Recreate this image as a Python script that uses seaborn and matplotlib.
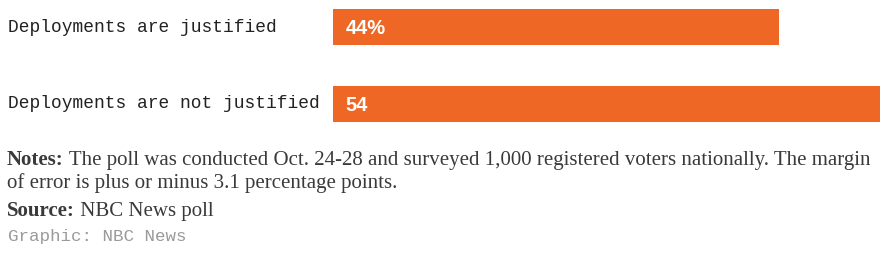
import matplotlib
matplotlib.use("Agg")
import matplotlib.pyplot as plt
import seaborn as sns
import pandas as pd

categories = ["Deployments are justified", "Deployments are not justified"]
values = [44, 54]
value_labels = ["44%", "54"]
notes_label = "Notes:"
notes_text = [" The poll was conducted Oct. 24-28 and surveyed 1,000 registered voters nationally. The margin",
              "of error is plus or minus 3.1 percentage points."]
source_label = "Source:"
source_text = " NBC News poll"
credit = "Graphic: NBC News"

sns.set_theme(style="white")
plt.rcParams["font.family"] = ["DejaVu Sans"]

W, H = 889, 280
fig = plt.figure(figsize=(W / 100, H / 100), dpi=100)
fig.patch.set_facecolor("white")

bar_w = 36 / 77
pad = bar_w / 2
top_px, bot_px = 9, 122
ax = fig.add_axes([333 / W, 1 - bot_px / H, (880 - 333) / W, (bot_px - top_px) / H])

df = pd.DataFrame({"cat": categories, "val": values})
sns.barplot(data=df, x="val", y="cat", color="#EE6724", saturation=1, width=bar_w, ax=ax,
            orient="h", linewidth=0)
ax.set_xlim(0, max(values))
ax.set_ylim(1 + pad, -pad)
ax.axis("off")

for i, (v, lab) in enumerate(zip(values, value_labels)):
    ax.text(1.25, i + 0.02, lab, color="white", fontsize=14.5, fontweight="bold",
            family="Liberation Sans", va="center", ha="left")

def fy(px):
    return 1 - px / H

for i, c in enumerate(categories):
    fig.text(8 / W, fy([27, 104][i]), c, family="Liberation Mono", fontsize=12.9,
             color="#222222", va="center", ha="left")

fig.canvas.draw()
r = fig.canvas.get_renderer()

def label_pair(y_base, bold, rest, size):
    t = fig.text(7 / W, fy(y_base), bold, family="Liberation Serif", fontweight="bold",
                 fontsize=size, color="#3a3a3a", va="baseline", ha="left")
    bb = t.get_window_extent(renderer=r)
    fig.text(bb.x1 / W, fy(y_base), rest, family="Liberation Serif", fontsize=size,
             color="#3a3a3a", va="baseline", ha="left")

ns = 15
label_pair(165, notes_label, notes_text[0], ns)
fig.text(7 / W, fy(188), notes_text[1], family="Liberation Serif", fontsize=ns,
         color="#3a3a3a", va="baseline", ha="left")
label_pair(216, source_label, source_text, ns)
fig.text(8 / W, fy(241), credit, family="Liberation Mono", fontsize=12.6,
         color="#9a9a9a", va="baseline", ha="left")

fig.savefig("out.png", dpi=100, facecolor="white")
